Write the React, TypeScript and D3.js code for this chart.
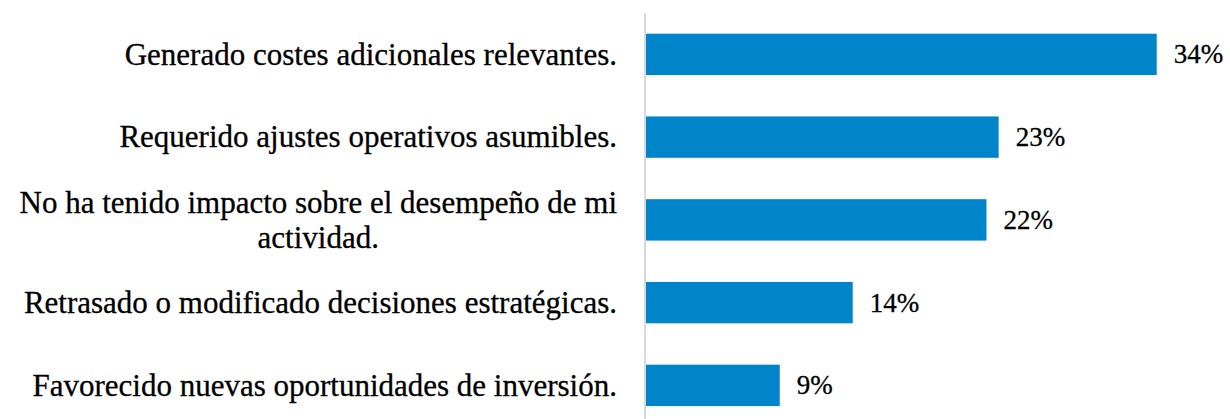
import React from "react";
import * as d3 from "d3";

const categories: string[] = [
  "Generado costes adicionales relevantes.",
  "Requerido ajustes operativos asumibles.",
  "No ha tenido impacto sobre el desempeño de mi\nactividad.",
  "Retrasado o modificado decisiones estratégicas.",
  "Favorecido nuevas oportunidades de inversión.",
];
const values: number[] = [33.6, 23.2, 22.4, 13.6, 8.8];
const valueLabels: string[] = ["34%", "23%", "22%", "14%", "9%"];

const W = 1230;
const H = 419;
const FONT = "'Liberation Serif', 'Times New Roman', serif";
const CAT_SIZE = 31;
const VAL_SIZE = 27;
const BAR_COLOR = "#0084CA";

function measure(text: string, size: number): number {
  if (typeof document === "undefined") return text.length * size * 0.45;
  const c = document.createElement("canvas");
  const ctx = c.getContext("2d");
  if (!ctx) return text.length * size * 0.45;
  ctx.font = `${size}px 'Liberation Serif'`;
  return ctx.measureText(text).width;
}

export default function App() {
  const x = d3.scaleLinear().domain([0, 35]).range([646, 646 + 35 * 15.2]);
  const y = d3
    .scaleBand<string>()
    .domain(categories)
    .range([13, 426.75])
    .paddingInner(0.5)
    .paddingOuter(0.25);

  const labelRight = 617;
  const lineGap = 35;

  return (
    <svg
      width={W}
      height={H}
      style={{ position: "absolute", left: 0, top: 0, display: "block", background: "#fff" }}
    >
      <line x1={x(0) - 1} x2={x(0) - 1} y1={13} y2={H} stroke="#d9d9d9" strokeWidth={2} />
      {categories.map((c, i) => {
        const y0 = y(c) as number;
        const cy = y0 + y.bandwidth() / 2;
        const lines = c.split("\n");
        const widths = lines.map((l) => measure(l, CAT_SIZE));
        const maxW = Math.max(...widths);
        const multi = lines.length > 1;
        const cx = labelRight - maxW / 2;
        return (
          <g key={c}>
            <rect x={x(0)} y={y0} width={x(values[i]) - x(0)} height={y.bandwidth()} fill={BAR_COLOR} />
            <text
              x={x(values[i]) + 17}
              y={cy}
              dy="0.33em"
              fontFamily={FONT}
              fontSize={VAL_SIZE}
              fill="#000"
              stroke="#000"
              strokeWidth={0.3}
            >
              {valueLabels[i]}
            </text>
            {lines.map((l, j) => (
              <text
                key={j}
                x={multi ? cx : labelRight}
                y={cy + (j - (lines.length - 1) / 2) * lineGap}
                dy="0.33em"
                textAnchor={multi ? "middle" : "end"}
                fontFamily={FONT}
                fontSize={CAT_SIZE}
                fill="#000"
                stroke="#000"
                strokeWidth={0.3}
              >
                {l}
              </text>
            ))}
          </g>
        );
      })}
    </svg>
  );
}
